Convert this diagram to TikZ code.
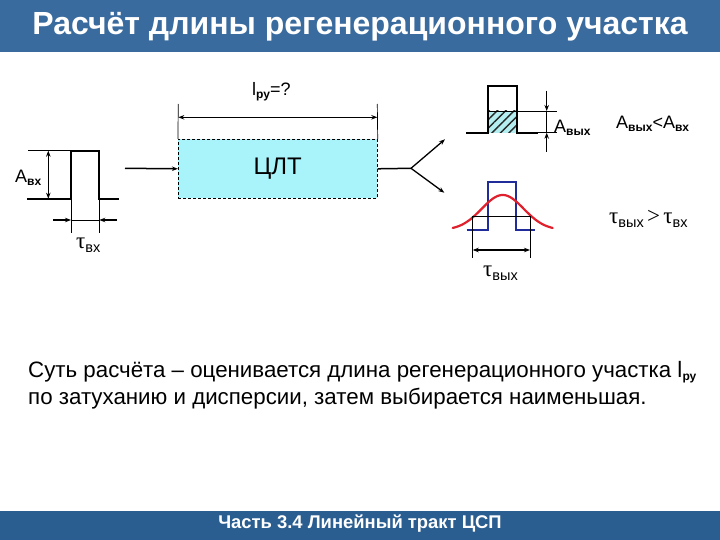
\documentclass[tikz,border=0pt]{standalone}
\usepackage{fontspec}
\setmainfont{Liberation Sans}
\newfontfamily\taufont{Liberation Serif}
\usetikzlibrary{arrows.meta,patterns.meta}
\definecolor{titlebar}{HTML}{3A6B9E}
\definecolor{footbar}{HTML}{2A5D90}
\definecolor{boxfill}{HTML}{A8F4FA}
\definecolor{hatchfill}{HTML}{B4EEF0}
\definecolor{pulseblue}{HTML}{1F2C9A}
\definecolor{curvered}{HTML}{E0202C}
\newcommand{\mysubB}[1]{\raisebox{-3pt}{\fontsize{12}{12}\selectfont\bfseries #1}}
\newcommand{\mysubR}[1]{\raisebox{-4pt}{\fontsize{14.5}{14.5}\selectfont #1}}
\newcommand{\mytau}{{\taufont\fontsize{23}{23}\selectfont τ}}
\begin{document}
\begin{tikzpicture}[x=1pt,y=-1pt,
  sig/.style={line width=1.8pt,line cap=rect},
  thinline/.style={line width=0.7pt},
  dimarrow/.style={line width=1.3pt,-{Stealth[length=6pt,width=4.5pt]}},
  dimboth/.style={line width=1.3pt,{Stealth[length=6pt,width=4.5pt]}-{Stealth[length=6pt,width=4.5pt]}},
  lbl/.style={inner sep=0pt,font=\fontsize{18}{18}\selectfont},
  para/.style={inner sep=0pt,anchor=base west,font=\fontsize{22.3}{27}\selectfont},
]
\useasboundingbox (0,0) rectangle (720,540);
\fill[titlebar] (0,0) rectangle (720,52);
\node[text=white,font=\bfseries\fontsize{32}{36}\selectfont] (title) at (360,27) {Расчёт длины регенерационного участка};
\fill[footbar] (0,511) rectangle (720,540);
\node[text=white,font=\bfseries\fontsize{18.4}{20}\selectfont] (foot) at (360,524) {Часть 3.4 Линейный тракт ЦСП};

% ---- line tract box
\node[draw,dashed,dash pattern=on 3pt off 2pt,line width=0.8pt,fill=boxfill,minimum width=199pt,minimum height=59pt,inner sep=0pt,font=\fontsize{24}{24}\selectfont] (clt) at (277.8,168.8) {ЦЛТ};
\coordinate (inStart) at (125,168.3);
\draw[dimarrow,line width=1.5pt] (inStart) -- (clt.west);
\coordinate (dimL) at (178.3,104);
\coordinate (dimR) at (377.3,104);
\draw[thinline] (clt.north west) -- (dimL);
\draw[thinline] (clt.north east) -- (dimR);
\coordinate (dimLa) at (178.3,117.3);
\coordinate (dimRa) at (377.3,117.3);
\draw[dimboth] (dimLa) -- (dimRa);
\node[lbl,anchor=base west] (lru) at (252,96) {l\mysubB{ру}=?};

% ---- fork
\coordinate (fork) at (411,168.3);
\coordinate (up) at (445,139.3);
\coordinate (down) at (444.3,192.7);
\draw[line width=1.5pt] (clt.east) -- (fork);
\draw[dimarrow] (fork) -- (up);
\draw[dimarrow] (fork) -- (down);

% ---- input pulse
\draw[sig] (28,198.7) -- (71,198.7) -- (71,150.7) -- (99.3,150.7) -- (99.3,198.7) -- (118.3,198.7);
\draw[thinline] (28,150.7) -- (71,150.7);
\coordinate (ainT) at (48.3,150.7);
\coordinate (ainB) at (48.3,198.7);
\draw[dimboth] (ainT) -- (ainB);
\draw[thinline] (71,198.7) -- (71,233);
\draw[thinline] (99.3,198.7) -- (99.3,233);
\draw[thinline] (71,220) -- (99.3,220);
\coordinate (tl0) at (53,220);
\coordinate (tl1) at (71,220);
\coordinate (tr0) at (117,220);
\coordinate (tr1) at (99.3,220);
\draw[dimarrow] (tl0) -- (tl1);
\draw[dimarrow] (tr0) -- (tr1);
\node[lbl,anchor=base west] (ain) at (15,183) {A\mysubB{вх}};
\node[inner sep=0pt,anchor=base west] (tin) at (76,248) {\mytau\mysubR{вх}};

% ---- attenuated output pulse
\fill[hatchfill] (487.7,111) rectangle (516.7,132.7);
\fill[pattern={Lines[angle=45,distance=6pt,line width=1.4pt]},pattern color=black!85] (487.7,111) rectangle (516.7,132.7);
\draw[thinline] (487.7,111) -- (516.7,111);
\draw[sig] (466.7,132.7) -- (487.7,132.7) -- (487.7,85.7) -- (516.7,85.7) -- (516.7,132.7) -- (537,132.7);
\draw[thinline] (516.7,111) -- (556.7,111);
\draw[thinline] (537,132.7) -- (556.7,132.7);
\draw[thinline] (546.7,111) -- (546.7,132.7);
\coordinate (aoT0) at (546.7,90.7);
\coordinate (aoT1) at (546.7,111);
\coordinate (aoB0) at (546.7,151.7);
\coordinate (aoB1) at (546.7,132.7);
\draw[dimarrow] (aoT0) -- (aoT1);
\draw[dimarrow] (aoB0) -- (aoB1);
\node[lbl,anchor=base west] (aout) at (554,133) {A\mysubB{вых}};
\node[lbl,anchor=base west] (acmp) at (616,129) {A\mysubB{вых}<A\mysubB{вх}};

% ---- dispersed output pulse
\draw[line width=2pt,pulseblue] (466.7,230) -- (488.3,230) -- (488.3,181.7) -- (516,181.7) -- (516,230) -- (535,230);
\draw[line width=2.2pt,curvered,line cap=round] plot[domain=-50:50,samples=80,smooth] ({502.7+\x},{230-35*exp(-(\x*\x)/(2*21*21))});
\draw[thinline] (472.7,216) -- (530,216);
\draw[thinline] (472.7,216) -- (472.7,258);
\draw[thinline] (530,216) -- (530,258);
\coordinate (tw0) at (472.7,250);
\coordinate (tw1) at (530,250);
\draw[dimboth] (tw0) -- (tw1);
\node[inner sep=0pt,anchor=base west] (tout) at (483,276) {\mytau\mysubR{вых}};
\node[inner sep=0pt,anchor=base west] (tcmp) at (609,224) {\mytau\mysubR{вых}\,\,{\taufont\fontsize{23}{23}\selectfont >}\,\,\mytau\mysubR{вх}};

% ---- text
\node[para] (para1) at (28,377) {Суть расчёта – оценивается длина регенерационного участка l\mysubB{ру}};
\node[para] (para2) at (28,404) {по затуханию и дисперсии, затем выбирается наименьшая.};
\end{tikzpicture}
\end{document}
